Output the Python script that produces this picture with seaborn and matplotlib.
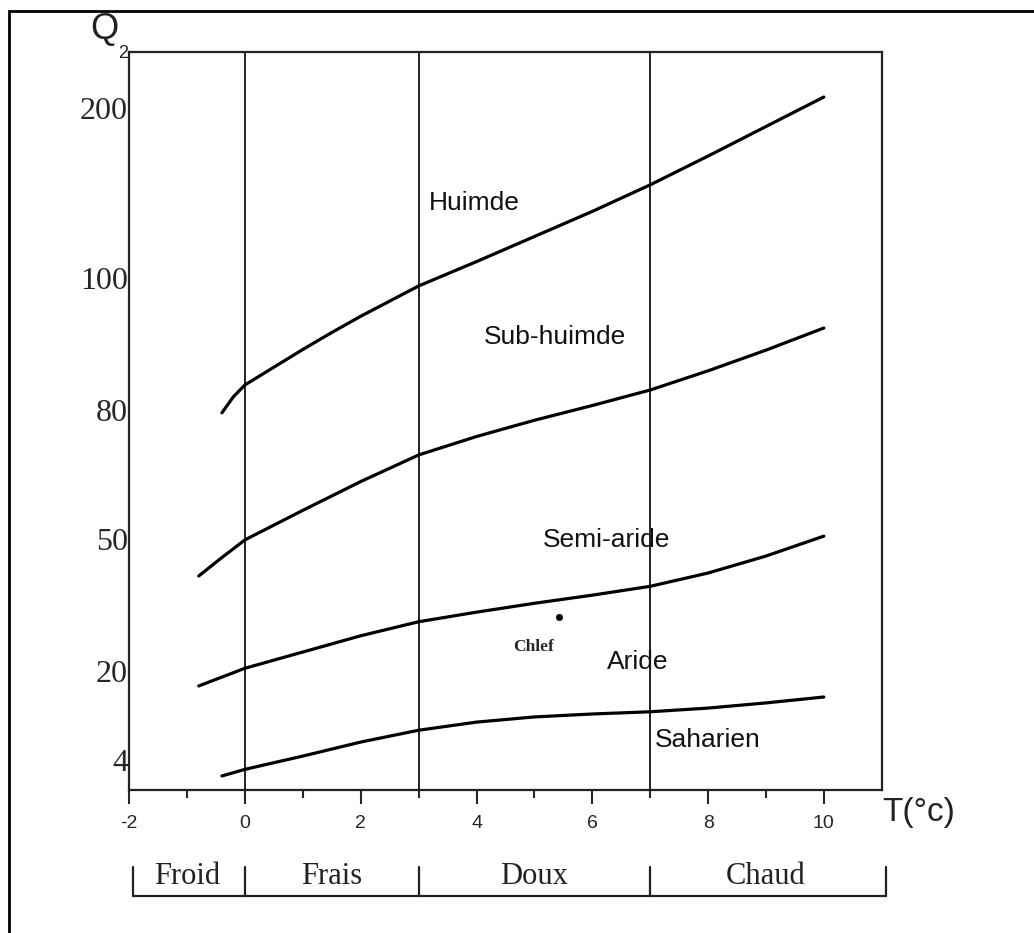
import numpy as np
import pandas as pd
import matplotlib
matplotlib.use("Agg")
import matplotlib.pyplot as plt
import matplotlib.transforms as mtransforms
from matplotlib.patches import Rectangle
import seaborn as sns

# ---------------- data ----------------
huimde_x = [-0.4, -0.2, 0.0, 0.5, 1.0, 1.5, 2.0, 3.0, 4.0, 5.0, 6.0, 7.0, 8.0, 9.0, 10.0]
huimde_y = [51.1, 53.3, 54.9, 57.3, 59.7, 62.0, 64.2, 68.3, 71.6, 75.0, 78.4, 82.0, 85.9, 89.9, 93.9]

subh_x = [-0.8, -0.4, 0.0, 1.0, 2.0, 3.0, 4.0, 5.0, 6.0, 7.0, 8.0, 9.0, 10.0]
subh_y = [29.0, 31.5, 33.9, 37.9, 41.8, 45.4, 47.9, 50.1, 52.1, 54.2, 56.8, 59.6, 62.6]

semi_x = [-0.8, 0.0, 1.0, 2.0, 3.0, 4.0, 5.0, 6.0, 7.0, 8.0, 9.0, 10.0]
semi_y = [14.1, 16.5, 18.7, 20.9, 22.8, 24.1, 25.3, 26.4, 27.6, 29.4, 31.7, 34.4]

sahar_x = [-0.4, 0.0, 1.0, 2.0, 3.0, 4.0, 5.0, 6.0, 7.0, 8.0, 9.0, 10.0]
sahar_y = [1.9, 2.8, 4.6, 6.5, 8.1, 9.2, 9.9, 10.3, 10.6, 11.1, 11.8, 12.6]

station_name = ["Chlef"]
station_x = [5.42]
station_y = [23.4]

q2_tick_pos = [92.4, 69.4, 51.5, 34.0, 16.1, 4.1]
q2_tick_labels = ["200", "100", "80", "50", "20", "4"]

x_major = [-2, 0, 2, 4, 6, 8, 10]
x_minor = [-1, 1, 3, 5, 7, 9]

zone_bounds = [0, 3, 7]
zone_names = ["Froid", "Frais", "Doux", "Chaud"]
zone_edges = [-2, 0, 3, 7, 11]

region_names = ["Huimde", "Sub-huimde", "Semi-aride", "Aride", "Saharien"]
region_x = [3.17, 4.12, 5.14, 6.25, 7.08]
region_y = [79.5, 61.4, 33.9, 17.3, 6.8]

# ---------------- style ----------------
sns.set_style("white")
plt.rcParams["font.family"] = ["Liberation Sans", "DejaVu Sans"]
plt.rcParams["axes.unicode_minus"] = False

curves = pd.concat([
    pd.DataFrame({"T": huimde_x, "Q": huimde_y, "courbe": "Huimde"}),
    pd.DataFrame({"T": subh_x, "Q": subh_y, "courbe": "Sub-huimde"}),
    pd.DataFrame({"T": semi_x, "Q": semi_y, "courbe": "Semi-aride"}),
    pd.DataFrame({"T": sahar_x, "Q": sahar_y, "courbe": "Saharien"}),
])
stations = pd.DataFrame({"T": station_x, "Q": station_y, "nom": station_name})

W, H = 1034, 933
fig = plt.figure(figsize=(W / 100, H / 100), dpi=100)
ax = fig.add_axes([129.3 / W, 1 - 790 / H, (881.7 - 129.3) / W, (790 - 52) / H])

# outer frame (left and top visible)
fig.add_artist(Rectangle((9 / W, -0.2), 2.0, 0.2 + (1 - 11 / H),
                         transform=fig.transFigure, fill=False,
                         edgecolor="black", linewidth=2.0))

# zone boundaries
for b in zone_bounds:
    ax.axvline(b, color="#222222", linewidth=1.4, zorder=1)

sns.lineplot(data=curves, x="T", y="Q", units="courbe", estimator=None,
             sort=False, color="black", linewidth=2.3, ax=ax, zorder=3)
sns.scatterplot(data=stations, x="T", y="Q", color="black", s=22,
                edgecolor="black", ax=ax, zorder=4)

for name, x, y in zip(station_name, station_x, station_y):
    ax.text(x - 0.78, y - 4.0, name, fontsize=12.5, fontweight="bold",
            family=["Liberation Serif"], ha="left", va="center")

for name, x, y in zip(region_names, region_x, region_y):
    ax.text(x, y, name, fontsize=19, ha="left", va="center", color="#111111")

ax.set_xlim(-2, 11)
ax.set_ylim(0, 100)
ax.set_xticks(x_major)
ax.set_xticklabels([str(v) for v in x_major])
ax.set_xticks(x_minor, minor=True)
ax.set_yticks(q2_tick_pos)
ax.set_yticklabels(q2_tick_labels, family=["Liberation Serif"], fontsize=23)
ax.tick_params(axis="x", which="major", length=10, width=1.5, pad=8,
               labelsize=14, direction="out", bottom=True)
ax.tick_params(axis="x", which="minor", length=5.5, width=1.5,
               direction="out", bottom=True)
ax.tick_params(axis="y", length=0, pad=1, left=True)
ax.set_xlabel("")
ax.set_ylabel("")
for sp in ax.spines.values():
    sp.set_visible(True)
    sp.set_color("#222222")
    sp.set_linewidth(1.6)

# zone bracket under the axis
trans = mtransforms.blended_transform_factory(ax.transData, ax.transAxes)
yb = (790 - 896) / 738
yt = (790 - 867) / 738
ax.plot([zone_edges[0] + 0.06, zone_edges[-1] + 0.08], [yb, yb], color="#222222",
        linewidth=1.6, transform=trans, clip_on=False)
for e in zone_edges:
    xe = e + 0.06 if e == zone_edges[0] else (e + 0.08 if e == zone_edges[-1] else e)
    ax.plot([xe, xe], [yb, yt], color="#222222", linewidth=1.6,
            transform=trans, clip_on=False)
for i, name in enumerate(zone_names):
    xc = (zone_edges[i] + zone_edges[i + 1]) / 2
    ax.text(xc, (790 - 877) / 738, name, transform=trans, ha="center",
            va="center", fontsize=22, family=["Liberation Serif"], color="#222222")

# axis titles
fig.text(104 / W, 1 - 30 / H, "Q", fontsize=26, ha="center", va="center",
         color="#222222")
fig.text(123 / W, 1 - 54 / H, "2", fontsize=13, ha="center", va="center",
         color="#222222")
fig.text(882 / W, 1 - 797 / H, "T(°c)", fontsize=24, ha="left", va="top",
         color="#222222")

fig.savefig("out.png", dpi=100, facecolor="white")
